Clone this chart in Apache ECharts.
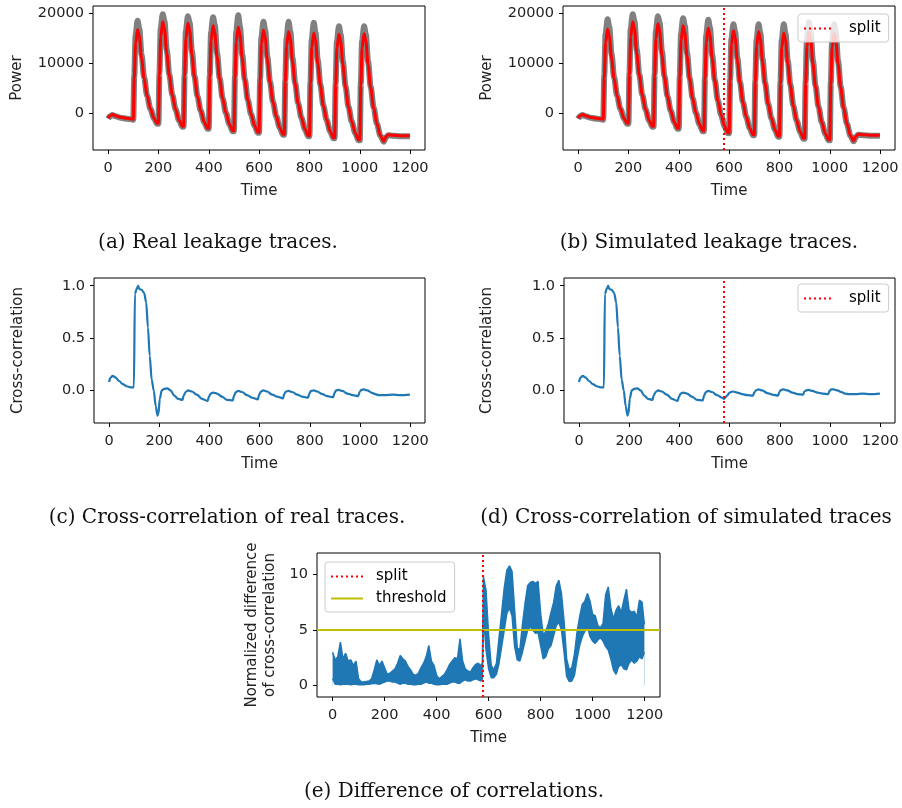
<!DOCTYPE html>
<html>
<head>
<meta charset="utf-8">
<script src="https://cdn.jsdelivr.net/npm/echarts@6/dist/echarts.min.js"></script>
<style>
  html, body { margin: 0; padding: 0; background: #fff; }
  #chart { width: 902px; height: 808px; }
</style>
</head>
<body>
<div id="chart"></div>
<script>
// ---- data ----
const timeTicks = [0, 200, 400, 600, 800, 1000, 1200]
const powerTicks = [0, 10000, 20000]
const corrTicks = [0, 0.5, 1.0]
const diffTicks = [0, 5, 10]
const splitTime = 578
const threshold = 5

const powerTime = [0, 8, 17, 30, 50, 75, 97,
  100, 104, 109, 117, 124, 133, 143, 155, 168, 182, 195,
  200, 204, 209, 217, 224, 233, 243, 255, 268, 282, 295,
  300, 304, 309, 317, 324, 333, 343, 355, 368, 382, 395,
  400, 404, 409, 417, 424, 433, 443, 455, 468, 482, 495,
  500, 504, 509, 517, 524, 533, 543, 555, 568, 582, 595,
  600, 604, 609, 617, 624, 633, 643, 655, 668, 682, 695,
  700, 704, 709, 717, 724, 733, 743, 755, 768, 782, 795,
  800, 804, 809, 817, 824, 833, 843, 855, 868, 882, 895,
  900, 904, 909, 917, 924, 933, 943, 955, 968, 982, 995,
  1000, 1004, 1009, 1017, 1024, 1033, 1043, 1055, 1068, 1082, 1095,
  1104, 1113, 1135, 1165, 1199]

const realMean = [-1000, -500, -250, -500, -800, -1000, -1150,
  -1200, 7000, 14000, 16700, 15400, 11000, 7000, 3500, 900, -1000, -2000,
  -2000, 7500, 15300, 18300, 16900, 12000, 7600, 3700, 800, -1400, -2600,
  -2600, 7300, 15000, 18000, 16600, 11700, 7300, 3400, 500, -1800, -3000,
  -3000, 7000, 14600, 17500, 16100, 11300, 6900, 3000, 100, -2200, -3500,
  -3500, 6800, 14300, 17200, 15800, 11000, 6600, 2700, -200, -2500, -3800,
  -3800, 6400, 13800, 16600, 15200, 10500, 6200, 2300, -600, -2900, -4200,
  -4200, 6100, 13500, 16300, 14900, 10200, 5900, 2000, -900, -3200, -4500,
  -4500, 5800, 13200, 16000, 14600, 9900, 5600, 1600, -1300, -3600, -4900,
  -4900, 5600, 13000, 15800, 14400, 9700, 5300, 1300, -1700, -4000, -5300,
  -5300, 5500, 13100, 15900, 14500, 9700, 5200, 1100, -2100, -4500, -5600,
  -4700, -4300, -4400, -4500, -4500]

const realMax = [-1100, -600, -350, -600, -900, -1100, -1250,
  -1300, 7600, 15600, 18500, 16900, 11700, 7200, 3500, 900, -1000, -2100,
  -2100, 8100, 17000, 19800, 18400, 12700, 7800, 3700, 800, -1400, -2700,
  -2700, 7900, 16500, 19400, 18100, 12400, 7500, 3400, 500, -1800, -3100,
  -3100, 7600, 16200, 19200, 17600, 12000, 7100, 3000, 100, -2200, -3600,
  -3600, 7500, 16300, 19600, 17300, 11700, 6800, 2700, -200, -2500, -3900,
  -3900, 7000, 15200, 18300, 16600, 11200, 6400, 2300, -600, -2900, -4300,
  -4300, 6700, 15000, 18300, 16300, 10900, 6100, 2000, -900, -3200, -4600,
  -4600, 6400, 14800, 18100, 16100, 10600, 5800, 1600, -1300, -3600, -5000,
  -5000, 6100, 14400, 17400, 15700, 10300, 5500, 1300, -1700, -4000, -5400,
  -5400, 6000, 14500, 17400, 15800, 10300, 5400, 1100, -2100, -4500, -5700,
  -4800, -4400, -4500, -4600, -4600]

const simMean = [-1000, -500, -250, -500, -800, -1000, -1150,
  -1200, 7000, 14100, 16800, 15500, 11000, 7000, 3500, 900, -1000, -2000,
  -2000, 7500, 15300, 18300, 16900, 12000, 7600, 3700, 800, -1400, -2600,
  -2600, 7300, 14900, 17900, 16500, 11600, 7300, 3400, 500, -1800, -3000,
  -3000, 7000, 14600, 17500, 16100, 11300, 6900, 3000, 100, -2200, -3500,
  -3500, 6700, 14100, 17000, 15600, 10900, 6500, 2600, -300, -2600, -3900,
  -3900, 6300, 13700, 16500, 15100, 10400, 6100, 2200, -700, -3000, -4300,
  -4300, 6100, 13500, 16300, 14900, 10200, 5900, 1900, -1000, -3300, -4600,
  -4600, 5800, 13200, 16000, 14600, 9900, 5600, 1500, -1400, -3700, -5000,
  -5000, 5800, 13400, 16200, 14800, 9900, 5400, 1300, -1800, -4100, -5300,
  -5300, 5600, 13200, 16000, 14600, 9800, 5200, 1100, -2100, -4500, -5500,
  -4600, -4200, -4300, -4400, -4400]

const simMax = [-1100, -600, -350, -600, -900, -1100, -1250,
  -1300, 7600, 15900, 18800, 17200, 11800, 7200, 3500, 900, -1000, -2100,
  -2100, 8100, 17000, 19800, 18400, 12700, 7800, 3700, 800, -1400, -2700,
  -2700, 7900, 16500, 19400, 18100, 12400, 7500, 3400, 500, -1800, -3100,
  -3100, 7600, 16000, 19000, 17500, 12000, 7100, 3000, 100, -2200, -3600,
  -3600, 7300, 15700, 18700, 17100, 11600, 6700, 2600, -300, -2600, -4000,
  -4000, 6800, 14900, 17800, 16200, 11000, 6300, 2200, -700, -3000, -4400,
  -4400, 6600, 14700, 17800, 16000, 10800, 6100, 1900, -1000, -3300, -4700,
  -4700, 6400, 14600, 17800, 15900, 10500, 5800, 1500, -1400, -3700, -5100,
  -5100, 6300, 14800, 18200, 16100, 10500, 5600, 1300, -1800, -4100, -5400,
  -5400, 6100, 14500, 17800, 16000, 10400, 5400, 1100, -2100, -4500, -5600,
  -4700, -4300, -4400, -4500, -4500]

const corrRealTime = [0, 5, 15, 25, 40, 55, 70, 85, 99, 103, 110, 116, 120, 130, 140, 148, 155, 162, 170, 178, 186, 193, 197,
  202, 210, 220, 232, 245, 260, 275, 293, 297, 305, 315, 330, 350, 370, 393, 398, 405, 415, 430, 450, 470, 493,
  498, 505, 515, 530, 550, 570, 593, 598, 605, 615, 630, 650, 670, 693, 698, 705, 715, 730, 750, 770, 793,
  798, 805, 815, 830, 850, 870, 893, 898, 905, 915, 930, 950, 970, 993, 998, 1005, 1015, 1030, 1045, 1060,
  1075, 1100, 1130, 1160, 1199]
const corrReal = [0.08, 0.12, 0.14, 0.125, 0.09, 0.06, 0.04, 0.03, 0.03, 0.92, 0.97, 1.0, 0.97, 0.96, 0.93, 0.84, 0.6, 0.33, 0.1, 0.0, -0.15, -0.24, -0.22,
  -0.08, 0.0, 0.015, 0.02, 0.0, -0.05, -0.08, -0.09, -0.05, -0.015, 0.0, -0.01, -0.04, -0.08, -0.1, -0.06, -0.03, -0.02, -0.03, -0.06, -0.09, -0.095,
  -0.05, -0.015, -0.005, -0.015, -0.045, -0.07, -0.085, -0.04, -0.01, 0.0, -0.01, -0.04, -0.06, -0.075, -0.035, -0.01, -0.005, -0.015, -0.04, -0.06, -0.07,
  -0.03, -0.005, 0.0, -0.01, -0.035, -0.055, -0.065, -0.025, 0.0, 0.005, -0.005, -0.03, -0.045, -0.055, -0.015, 0.005, 0.01, 0.0, -0.02, -0.035,
  -0.045, -0.045, -0.04, -0.045, -0.04]

const corrSimTime = [0, 5, 15, 25, 40, 55, 70, 85, 99, 103, 110, 116, 120, 130, 140, 148, 155, 162, 170, 178, 186, 193, 197,
  202, 210, 220, 232, 245, 260, 275, 293, 297, 305, 315, 330, 350, 370, 393, 398, 405, 415, 430, 450, 470, 493,
  498, 505, 515, 530, 550, 570, 578, 590, 600, 612, 630, 650, 670, 693, 698, 705, 715, 730, 750, 770, 793,
  798, 805, 815, 830, 850, 870, 893, 898, 905, 915, 930, 950, 970, 993, 998, 1005, 1015, 1030, 1045, 1060,
  1075, 1100, 1130, 1160, 1199]
const corrSim = [0.08, 0.12, 0.14, 0.125, 0.09, 0.06, 0.04, 0.03, 0.03, 0.92, 0.97, 1.0, 0.97, 0.96, 0.93, 0.84, 0.6, 0.33, 0.1, 0.0, -0.15, -0.24, -0.22,
  -0.08, 0.0, 0.015, 0.02, 0.0, -0.05, -0.08, -0.09, -0.05, -0.015, 0.0, -0.01, -0.04, -0.08, -0.1, -0.06, -0.03, -0.02, -0.03, -0.06, -0.09, -0.095,
  -0.05, -0.015, -0.005, -0.015, -0.045, -0.07, -0.08, -0.05, -0.02, -0.01, -0.02, -0.035, -0.045, -0.05, -0.02, 0.0, 0.01, 0.0, -0.025, -0.04, -0.05,
  -0.015, 0.005, 0.01, 0.0, -0.02, -0.035, -0.04, -0.01, 0.0, 0.005, -0.005, -0.02, -0.03, -0.035, -0.005, 0.01, 0.01, 0.0, -0.015, -0.03,
  -0.035, -0.035, -0.03, -0.035, -0.03]

const diffTime = [0, 10, 20, 30, 40, 50, 60, 70, 80, 90, 100, 110, 120, 130, 140, 150, 160, 170, 180, 190,
  200, 210, 220, 230, 240, 250, 260, 270, 280, 290, 300, 310, 320, 330, 340, 350, 360, 370, 380, 390,
  400, 410, 420, 430, 440, 450, 460, 470, 480, 490, 500, 510, 520, 530, 540, 550, 560, 570, 576,
  580, 590, 600, 610, 620, 630, 640, 650, 660, 670, 680, 690, 700, 710, 720, 730, 740, 750, 760, 770, 780, 790,
  800, 810, 820, 830, 840, 850, 860, 870, 880, 890, 900, 910, 920, 930, 940, 950, 960, 970, 980, 990,
  1000, 1010, 1020, 1030, 1040, 1050, 1060, 1070, 1080, 1090, 1100, 1110, 1120, 1130, 1140, 1150, 1160, 1170, 1180, 1190, 1199]
const diffHigh = [3.0, 2.3, 2.6, 3.9, 2.4, 2.9, 2.2, 2.3, 1.8, 2.2, 0.6, 0.3, 0.3, 0.35, 0.4, 0.6, 1.4, 2.3, 1.8, 2.2,
  1.6, 1.0, 1.1, 1.3, 1.5, 2.0, 2.7, 2.4, 2.2, 1.7, 1.4, 1.0, 0.9, 1.1, 1.6, 2.0, 2.6, 3.6, 2.2, 1.8,
  0.9, 0.6, 0.8, 1.0, 1.4, 1.9, 2.2, 2.5, 2.4, 4.2, 2.2, 1.5, 1.3, 1.2, 1.6, 1.9, 2.0, 1.8, 2.0,
  9.8, 8.6, 4.5, 1.8, 1.4, 2.0, 4.3, 6.5, 8.8, 10.4, 10.8, 10.3, 6.8, 3.4, 3.2, 5.5, 7.4, 9.0, 9.3, 9.4, 9.2, 9.4,
  6.5, 4.5, 4.9, 5.6, 6.6, 7.5, 9.0, 9.5, 8.3, 5.8, 2.4, 1.4, 1.6, 2.8, 4.8, 6.2, 7.3, 7.6, 8.3, 7.6,
  6.4, 6.3, 5.4, 5.2, 5.6, 8.2, 8.9, 7.0, 6.0, 6.8, 7.2, 6.6, 7.7, 8.7, 6.8, 6.6, 6.7, 6.2, 7.7, 7.5, 5.5]
const diffLow = [0.6, 0.1, 0.1, 0.05, 0.1, 0.1, 0.1, 0.05, 0.1, 0.1, 0.05, 0.05, 0.05, 0.1, 0.1, 0.15, 0.2, 0.15, 0.1, 0.2,
  0.3, 0.4, 0.4, 0.3, 0.3, 0.2, 0.1, 0.2, 0.2, 0.1, 0.1, 0.05, 0.05, 0.1, 0.1, 0.2, 0.3, 0.2, 0.2, 0.1,
  0.05, 0.05, 0.1, 0.1, 0.1, 0.2, 0.3, 0.3, 0.2, 0.2, 0.4, 0.5, 0.4, 0.4, 0.5, 0.6, 0.5, 0.4, 0.6,
  6.5, 3.2, 1.5, 0.7, 0.7, 1.0, 2.0, 3.5, 5.0, 6.5, 7.0, 6.3, 3.5, 2.3, 2.2, 3.0, 4.0, 5.0, 5.3, 5.0, 4.7, 4.8,
  3.6, 2.4, 2.6, 3.3, 3.6, 4.5, 5.4, 5.7, 5.0, 3.0, 0.8, 0.35, 0.4, 0.9, 2.4, 3.6, 4.4, 4.9, 5.3, 4.4,
  4.0, 3.8, 4.1, 4.3, 4.0, 3.5, 3.2, 2.4, 1.4, 1.0, 1.7, 1.9, 1.5, 1.4, 2.0, 2.3, 2.0, 2.2, 2.6, 2.4, 3.0]

// ---- styling ----
const SANS = 'DejaVu Sans'
const TXT = '#222'
const BLUE = '#1f77b4'
const GRAY = '#808080'
const OLIVE = '#bfbf00'
const CAPTION_FONT = '20px "DejaVu Serif"'

function pairs(xs, ys) {
  return xs.map((x, i) => [x, ys[i]])
}

const fmtInt = v => String(v)
const fmtOne = v => v.toFixed(1)

function xAx(gridIndex) {
  return {
    type: 'value', gridIndex, min: -60, max: 1259,
    name: 'Time', nameLocation: 'middle', nameGap: 34,
    nameTextStyle: { fontFamily: SANS, fontSize: 15, color: TXT },
    axisLine: { show: false, onZero: false },
    axisTick: { show: true, customValues: timeTicks, length: 4, lineStyle: { color: '#000', width: 1 } },
    axisLabel: { customValues: timeTicks, fontFamily: SANS, fontSize: 14.5, color: TXT, margin: 11, formatter: fmtInt },
    splitLine: { show: false }
  }
}

function yAx(gridIndex, min, max, ticks, name, nameGap, fmt) {
  return {
    type: 'value', gridIndex, min, max,
    name, nameLocation: 'middle', nameGap, nameRotate: 90,
    nameTextStyle: { fontFamily: SANS, fontSize: 15, color: TXT, lineHeight: 18 },
    axisLine: { show: false, onZero: false },
    axisTick: { show: true, customValues: ticks, length: 4, lineStyle: { color: '#000', width: 1 } },
    axisLabel: { customValues: ticks, fontFamily: SANS, fontSize: 14.5, color: TXT, margin: 9, formatter: fmt },
    splitLine: { show: false }
  }
}

function trace(name, idx, data, color, width) {
  return {
    name, type: 'line', xAxisIndex: idx, yAxisIndex: idx, data,
    symbol: 'none', smooth: 0.3, smoothMonotone: 'x', silent: true,
    lineStyle: { color, width }, itemStyle: { color }
  }
}

function splitSeries(idx) {
  return {
    name: 'split', type: 'line', xAxisIndex: idx, yAxisIndex: idx, data: [],
    symbol: 'none', color: 'red', z: 4,
    lineStyle: { color: 'red', width: 2, type: [2, 3] },
    markLine: {
      silent: true, symbol: ['none', 'none'], label: { show: false },
      lineStyle: { color: 'red', width: 2, type: [2, 3] },
      data: [{ xAxis: splitTime }]
    }
  }
}

function legendBox(top, left, names, itemWidth, textPad) {
  return {
    top, left, orient: 'vertical', data: names,
    itemWidth, itemHeight: 14, itemGap: 7,
    padding: [7, 8, 6, 5],
    backgroundColor: 'rgba(255,255,255,0.8)',
    borderColor: '#cccccc', borderWidth: 1, borderRadius: 3,
    itemStyle: { opacity: 0 },
    lineStyle: { width: 2 },
    textStyle: { fontFamily: SANS, fontSize: 15, color: '#000', padding: [0, 0, 0, textPad] },
    selectedMode: false
  }
}

const gridBox = { show: true, borderColor: '#000', borderWidth: 1, backgroundColor: 'transparent' }

function caption(x, y, text) {
  return { type: 'text', x, y, style: { text, font: CAPTION_FONT, fill: '#111', align: 'center', verticalAlign: 'middle' } }
}

const chart = echarts.init(document.getElementById('chart'), null, { renderer: 'canvas' })

chart.setOption({
  animation: false,
  backgroundColor: '#fff',
  grid: [
    Object.assign({ left: 93, top: 6, width: 332, height: 144 }, gridBox),
    Object.assign({ left: 563, top: 6, width: 332, height: 144 }, gridBox),
    Object.assign({ left: 94, top: 278, width: 331, height: 145 }, gridBox),
    Object.assign({ left: 564, top: 278, width: 331, height: 145 }, gridBox),
    Object.assign({ left: 317, top: 553, width: 343, height: 144 }, gridBox)
  ],
  xAxis: [xAx(0), xAx(1), xAx(2), xAx(3), xAx(4)],
  yAxis: [
    yAx(0, -7340, 21460, powerTicks, 'Power', 67, fmtInt),
    yAx(1, -7340, 21460, powerTicks, 'Power', 67, fmtInt),
    yAx(2, -0.311, 1.074, corrTicks, 'Cross-correlation', 67, fmtOne),
    yAx(3, -0.311, 1.074, corrTicks, 'Cross-correlation', 68, fmtOne),
    yAx(4, -1.05, 11.96, diffTicks, 'Normalized difference\nof cross-correlation', 38, fmtInt)
  ],
  legend: [
    legendBox(14, 798, ['split'], 27, 13),
    legendBox(284, 798, ['split'], 27, 13),
    legendBox(562, 325, ['split', 'threshold'], 32, 8)
  ],
  series: [
    trace('real traces', 0, pairs(powerTime, realMax), GRAY, 6),
    trace('real mean', 0, pairs(powerTime, realMean), 'red', 3),
    trace('sim traces', 1, pairs(powerTime, simMax), GRAY, 6),
    trace('sim mean', 1, pairs(powerTime, simMean), 'red', 3),
    splitSeries(1),
    trace('corr real', 2, pairs(corrRealTime, corrReal), BLUE, 2.2),
    trace('corr sim', 3, pairs(corrSimTime, corrSim), BLUE, 2.2),
    splitSeries(3),
    // band of the noisy difference: blue from the upper edge down, white from the lower edge down
    {
      name: 'diff high', type: 'line', xAxisIndex: 4, yAxisIndex: 4,
      data: pairs(diffTime, diffHigh), symbol: 'none', silent: true,
      lineStyle: { color: BLUE, width: 1.5 },
      areaStyle: { color: BLUE, opacity: 1, origin: 0 }
    },
    {
      name: 'diff low', type: 'line', xAxisIndex: 4, yAxisIndex: 4,
      data: pairs(diffTime, diffLow), symbol: 'none', silent: true,
      lineStyle: { color: BLUE, width: 1.5 },
      areaStyle: { color: '#ffffff', opacity: 1, origin: -0.6 }
    },
    {
      name: 'threshold', type: 'line', xAxisIndex: 4, yAxisIndex: 4, data: [],
      symbol: 'none', color: OLIVE, z: 4,
      lineStyle: { color: OLIVE, width: 2 },
      markLine: {
        silent: true, symbol: ['none', 'none'], label: { show: false },
        lineStyle: { color: OLIVE, width: 2, type: 'solid' },
        data: [{ yAxis: threshold }]
      }
    },
    splitSeries(4)
  ],
  graphic: [
    caption(218, 243, '(a) Real leakage traces.'),
    caption(709, 243, '(b) Simulated leakage traces.'),
    caption(227, 518, '(c) Cross-correlation of real traces.'),
    caption(686, 518, '(d) Cross-correlation of simulated traces'),
    caption(454, 792, '(e) Difference of correlations.')
  ]
})
</script>
</body>
</html>
